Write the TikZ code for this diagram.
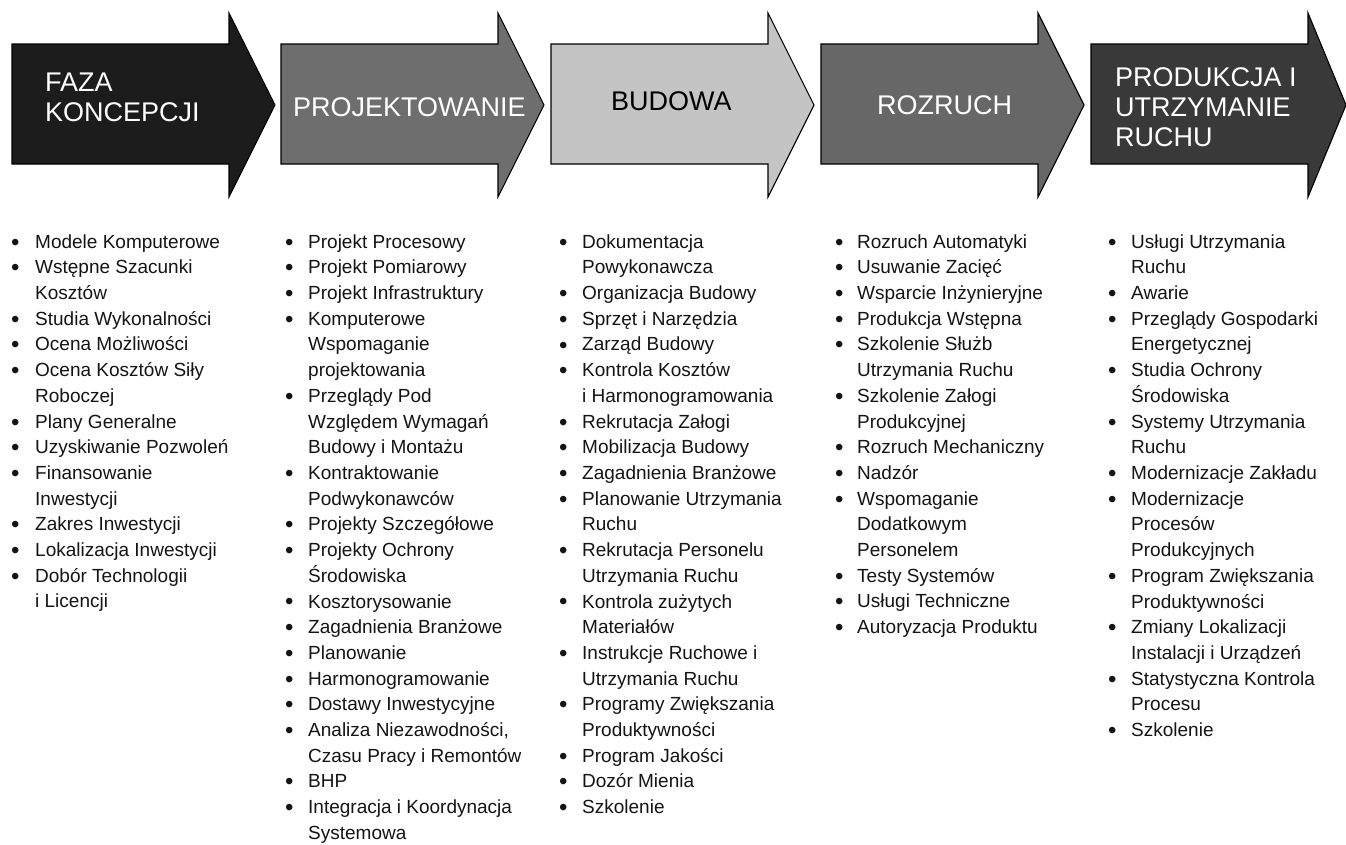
\documentclass[tikz,border=0pt]{standalone}
\usepackage{fontspec}
\setmainfont{Liberation Sans}
\usepackage{array}
\usepackage{tikz}
\usetikzlibrary{calc}
\definecolor{phaseink}{HTML}{141414}
\definecolor{fazafill}{HTML}{1C1C1C}
\definecolor{projfill}{HTML}{6E6E6E}
\definecolor{budfill}{HTML}{C4C4C4}
\definecolor{rozfill}{HTML}{676767}
\definecolor{prodfill}{HTML}{393939}
\newcommand{\lstdot}{\raisebox{-2pt}{\fontsize{24}{25.7}\selectfont\textbullet}}

\begin{document}
\begin{tikzpicture}[x=1pt,y=-1pt,line join=miter,
  arr/.style={draw=black,line width=1.1pt},
  phase/.style={anchor=north west,inner sep=0pt,align=left,text=white,
    font=\fontsize{27}{30}\selectfont},
  lst/.style={anchor=north west,inner sep=0pt,text=phaseink,
    font=\fontsize{19}{25.7}\selectfont}]
\clip (0,0) rectangle (1346,844);
\fill[white] (0,0) rectangle (1346,844);
% strzalki faz: lewa krawedz / wypelnienie / dlugosc grota
\foreach \x/\c/\h in {12/fazafill/46,281/projfill/46,551/budfill/46,
    821/rozfill/46,1091/prodfill/38}
  \draw[arr,fill=\c] (\x,44) -- (\x+217,44) -- (\x+217,13) -- (\x+217+\h,105)
    -- (\x+217,197) -- (\x+217,164) -- (\x,164) -- cycle;
\node[phase] (faza) at (45,73) {FAZA\\KONCEPCJI};
\node[phase] (proj) at (293,97) {PROJEKTOWANIE};
\node[phase,text=black] (bud) at (611,91) {BUDOWA};
\node[phase] (roz) at (877,95) {ROZRUCH};
\node[phase] (prod) at (1115,67) {PRODUKCJA I\\UTRZYMANIE\\RUCHU};
% listy czynnosci pod strzalkami
\node[lst] (lfaza) at (11,230) {\begin{tabular}{@{}p{24pt}@{}l@{}}
\lstdot & Modele Komputerowe\\
\lstdot & Wstępne Szacunki\\
 & Kosztów\\
\lstdot & Studia Wykonalności\\
\lstdot & Ocena Możliwości\\
\lstdot & Ocena Kosztów Siły\\
 & Roboczej\\
\lstdot & Plany Generalne\\
\lstdot & Uzyskiwanie Pozwoleń\\
\lstdot & Finansowanie\\
 & Inwestycji\\
\lstdot & Zakres Inwestycji\\
\lstdot & Lokalizacja Inwestycji\\
\lstdot & Dobór Technologii\\
 & i Licencji
\end{tabular}};
\node[lst] (lproj) at (285,230) {\begin{tabular}{@{}p{23pt}@{}l@{}}
\lstdot & Projekt Procesowy\\
\lstdot & Projekt Pomiarowy\\
\lstdot & Projekt Infrastruktury\\
\lstdot & Komputerowe\\
 & Wspomaganie\\
 & projektowania\\
\lstdot & Przeglądy Pod\\
 & Względem Wymagań\\
 & Budowy i Montażu\\
\lstdot & Kontraktowanie\\
 & Podwykonawców\\
\lstdot & Projekty Szczegółowe\\
\lstdot & Projekty Ochrony\\
 & Środowiska\\
\lstdot & Kosztorysowanie\\
\lstdot & Zagadnienia Branżowe\\
\lstdot & Planowanie\\
\lstdot & Harmonogramowanie\\
\lstdot & Dostawy Inwestycyjne\\
\lstdot & Analiza Niezawodności,\\
 & Czasu Pracy i Remontów\\
\lstdot & BHP\\
\lstdot & Integracja i Koordynacja\\
 & Systemowa
\end{tabular}};
\node[lst] (lbud) at (559,230) {\begin{tabular}{@{}p{23pt}@{}l@{}}
\lstdot & Dokumentacja\\
 & Powykonawcza\\
\lstdot & Organizacja Budowy\\
\lstdot & Sprzęt i Narzędzia\\
\lstdot & Zarząd Budowy\\
\lstdot & Kontrola Kosztów\\
 & i Harmonogramowania\\
\lstdot & Rekrutacja Załogi\\
\lstdot & Mobilizacja Budowy\\
\lstdot & Zagadnienia Branżowe\\
\lstdot & Planowanie Utrzymania\\
 & Ruchu\\
\lstdot & Rekrutacja Personelu\\
 & Utrzymania Ruchu\\
\lstdot & Kontrola zużytych\\
 & Materiałów\\
\lstdot & Instrukcje Ruchowe i\\
 & Utrzymania Ruchu\\
\lstdot & Programy Zwiększania\\
 & Produktywności\\
\lstdot & Program Jakości\\
\lstdot & Dozór Mienia\\
\lstdot & Szkolenie
\end{tabular}};
\node[lst] (lroz) at (835,230) {\begin{tabular}{@{}p{22pt}@{}l@{}}
\lstdot & Rozruch Automatyki\\
\lstdot & Usuwanie Zacięć\\
\lstdot & Wsparcie Inżynieryjne\\
\lstdot & Produkcja Wstępna\\
\lstdot & Szkolenie Służb\\
 & Utrzymania Ruchu\\
\lstdot & Szkolenie Załogi\\
 & Produkcyjnej\\
\lstdot & Rozruch Mechaniczny\\
\lstdot & Nadzór\\
\lstdot & Wspomaganie\\
 & Dodatkowym\\
 & Personelem\\
\lstdot & Testy Systemów\\
\lstdot & Usługi Techniczne\\
\lstdot & Autoryzacja Produktu
\end{tabular}};
\node[lst] (lprod) at (1108,230) {\begin{tabular}{@{}p{23pt}@{}l@{}}
\lstdot & Usługi Utrzymania\\
 & Ruchu\\
\lstdot & Awarie\\
\lstdot & Przeglądy Gospodarki\\
 & Energetycznej\\
\lstdot & Studia Ochrony\\
 & Środowiska\\
\lstdot & Systemy Utrzymania\\
 & Ruchu\\
\lstdot & Modernizacje Zakładu\\
\lstdot & Modernizacje\\
 & Procesów\\
 & Produkcyjnych\\
\lstdot & Program Zwiększania\\
 & Produktywności\\
\lstdot & Zmiany Lokalizacji\\
 & Instalacji i Urządzeń\\
\lstdot & Statystyczna Kontrola\\
 & Procesu\\
\lstdot & Szkolenie
\end{tabular}};
\end{tikzpicture}
\end{document}
